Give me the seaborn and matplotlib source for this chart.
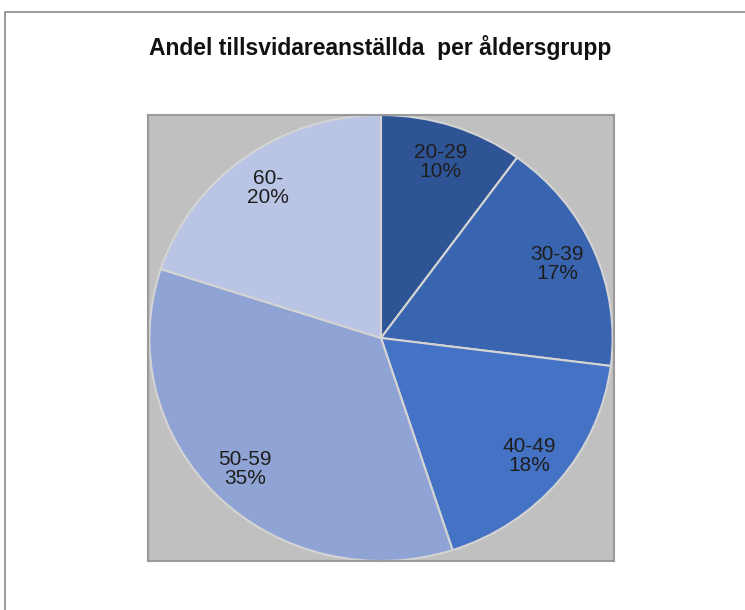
import numpy as np
import pandas as pd
import seaborn as sns
import matplotlib.pyplot as plt
from matplotlib.patches import Rectangle

# andel per åldersgrupp (%)
age_groups = ['20-29', '30-39', '40-49', '50-59', '60-']
shares = [10, 17, 18, 35, 20]
slice_colors = ['#2F5496', '#3964B0', '#4472C4', '#8FA4D5', '#BAC5E5']

title_text = 'Andel tillsvidareanställda  per åldersgrupp'

sns.set_style('white')
plt.rcParams['font.family'] = ['Liberation Sans', 'DejaVu Sans']

df = pd.DataFrame({'grupp': age_groups, 'andel': shares})
palette = sns.color_palette(slice_colors)

fig = plt.figure(figsize=(7.45, 6.10), dpi=100)
ax = fig.add_axes([148 / 745, 1 - 561 / 610, 466 / 745, 446 / 610])

labels = [g + '\n' + str(v) + '%' for g, v in zip(df['grupp'], df['andel'])]
wedges, texts = ax.pie(df['andel'], labels=labels, colors=palette,
                       startangle=90, counterclock=False, radius=1.0,
                       labeldistance=0.83,
                       wedgeprops=dict(edgecolor='#D4D4D4', linewidth=1.5),
                       textprops=dict(fontsize=15, color='#1E1E1E'))
for t in texts:
    t.set_horizontalalignment('center')
    t.set_verticalalignment('center')
    t.set_multialignment('center')
    t.set_linespacing(1.0)

ax.set_aspect('auto')
ax.set_xlim(-1.006, 1.006)
ax.set_ylim(-1.0, 1.0)
ax.set_frame_on(True)
ax.set_facecolor('#C0C0C0')
for s in ax.spines.values():
    s.set_visible(True)
    s.set_color('#9A9A9A')
    s.set_linewidth(1.5)
ax.set_xticks([])
ax.set_yticks([])

fig.text(0.51, 1 - 47 / 610, title_text, ha='center', va='center',
         fontsize=16.5, fontweight='bold', color='#111111')

# yttre ram (bara vänster och överkant syns)
fig.patches.append(Rectangle((5 / 745, -0.1), 1.2, 1.1 - 12 / 610,
                             transform=fig.transFigure, fill=False,
                             edgecolor='#8A8A8A', linewidth=1.2))

fig.savefig('out.png', dpi=100)
